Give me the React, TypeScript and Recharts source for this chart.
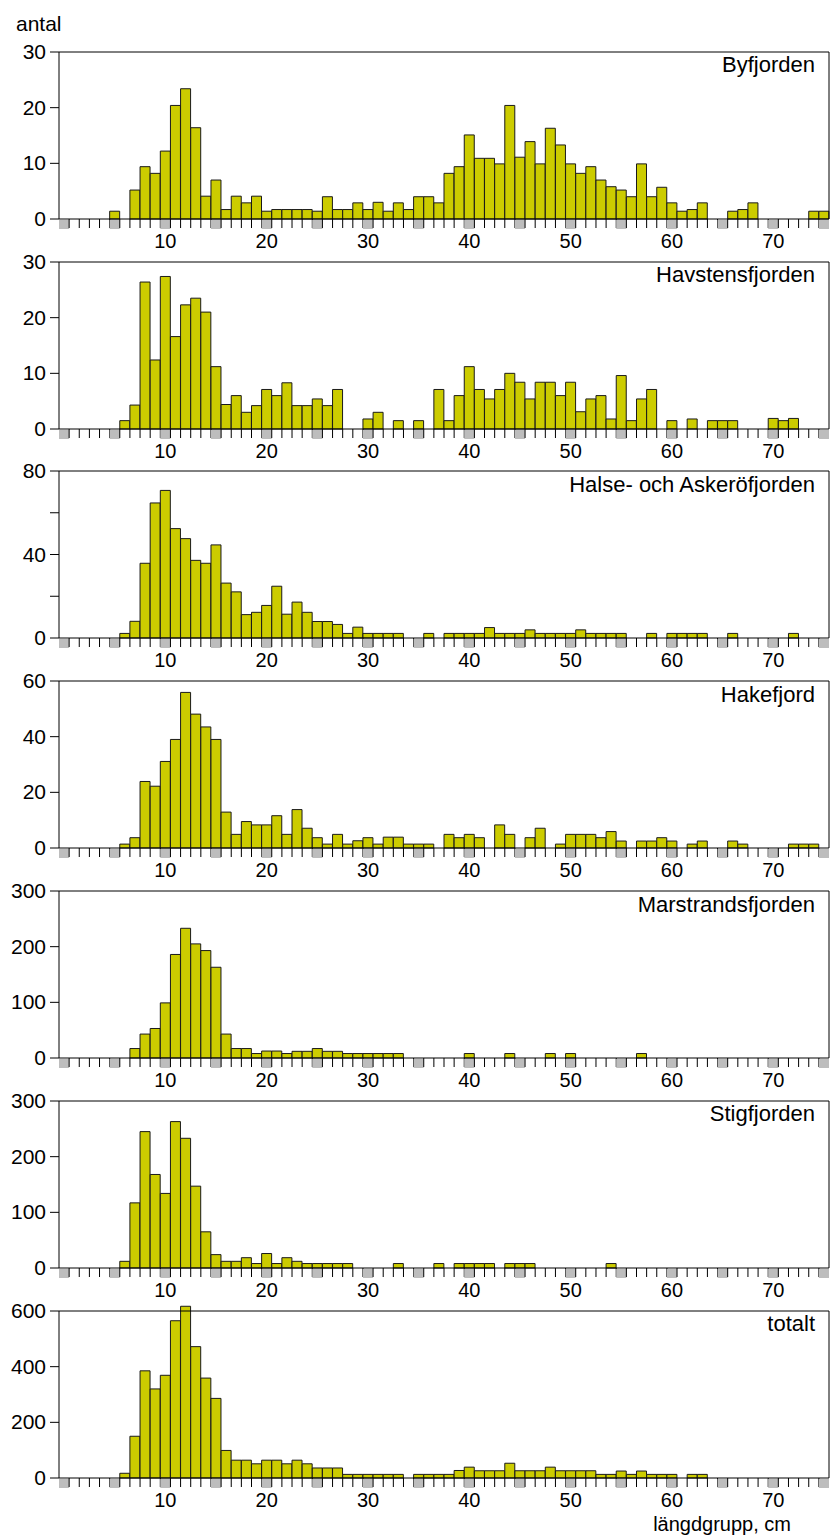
import React from 'react';
import { BarChart, Bar, XAxis, YAxis, ReferenceLine } from 'recharts';

// length groups, cm
const LENGTHS = Array.from({ length: 76 }, (_, i) => i);
const X_LABELS = [10, 20, 30, 40, 50, 60, 70];

const byfjorden = [0, 0, 0, 0, 0, 1.4, 0, 5.2, 9.4, 8.2, 12.2, 20.4, 23.4, 16.4, 4.1, 7.0, 1.7, 4.1, 2.9, 4.1, 1.4, 1.7, 1.7, 1.7, 1.7, 1.4, 4.0, 1.7, 1.7, 2.9, 1.7, 3.0, 1.4, 2.9, 1.7, 4.0, 4.0, 2.9, 8.2, 9.4, 15.1, 10.9, 10.9, 9.9, 20.4, 11.1, 13.9, 9.9, 16.3, 13.3, 9.9, 8.2, 9.4, 7.0, 5.8, 5.2, 4.0, 9.9, 4.0, 5.7, 2.9, 1.4, 1.7, 2.9, 0, 0, 1.4, 1.7, 2.9, 0, 0, 0, 0, 0, 1.4, 1.4];
const havstensfjorden = [0, 0, 0, 0, 0, 0, 1.5, 4.3, 26.4, 12.4, 27.4, 16.6, 22.3, 23.5, 21.0, 11.2, 4.4, 6.0, 3.0, 4.2, 7.1, 6.0, 8.3, 4.2, 4.2, 5.4, 4.2, 7.1, 0, 0, 1.8, 3.0, 0, 1.5, 0, 1.5, 0, 7.1, 1.5, 6.0, 11.2, 7.1, 5.4, 7.1, 10.0, 8.4, 5.4, 8.4, 8.4, 6.0, 8.4, 3.1, 5.4, 6.0, 1.8, 9.6, 1.5, 5.4, 7.1, 0, 1.5, 0, 1.8, 0, 1.5, 1.5, 1.5, 0, 0, 0, 1.9, 1.5, 1.9, 0, 0, 0];
const halseAskero = [0, 0, 0, 0, 0, 0, 2.2, 8.0, 35.8, 64.7, 70.7, 52.4, 47.6, 37.2, 35.8, 44.6, 26.3, 22.1, 11.2, 12.3, 15.6, 24.8, 11.4, 17.2, 12.3, 7.9, 7.9, 6.5, 2.2, 5.2, 2.2, 2.2, 2.2, 2.2, 0, 0, 2.2, 0, 2.2, 2.2, 2.2, 2.2, 5.0, 2.2, 2.2, 2.2, 3.9, 2.2, 2.2, 2.2, 2.2, 3.9, 2.2, 2.2, 2.2, 2.2, 0, 0, 2.2, 0, 2.2, 2.2, 2.2, 2.2, 0, 0, 2.2, 0, 0, 0, 0, 0, 2.2, 0, 0, 0];
const hakefjord = [0, 0, 0, 0, 0, 0, 1.4, 3.7, 23.9, 22.2, 31.1, 39.0, 55.9, 48.1, 43.5, 39.0, 12.9, 4.9, 9.5, 8.3, 8.3, 11.6, 4.9, 13.8, 7.1, 3.7, 1.4, 4.9, 1.4, 2.6, 3.7, 1.4, 3.9, 3.9, 1.4, 1.4, 1.4, 0, 4.9, 3.7, 4.9, 3.7, 0, 8.3, 4.9, 0, 3.7, 7.1, 0, 1.4, 4.9, 4.9, 4.9, 3.7, 5.9, 2.5, 0, 2.5, 2.5, 3.7, 2.5, 0, 1.4, 2.5, 0, 0, 2.5, 1.4, 0, 0, 0, 0, 1.4, 1.4, 1.4, 0];
const marstrandsfjorden = [0, 0, 0, 0, 0, 0, 0, 17, 43, 53, 99, 186, 233, 205, 193, 163, 43, 17, 17, 8, 12.5, 12.5, 8, 12, 12, 17, 12, 12, 8, 8, 8, 8, 8, 8, 0, 0, 0, 0, 0, 0, 8, 0, 0, 0, 8, 0, 0, 0, 8, 0, 8, 0, 0, 0, 0, 0, 0, 8, 0, 0, 0, 0, 0, 0, 0, 0, 0, 0, 0, 0, 0, 0, 0, 0, 0, 0];
const stigfjorden = [0, 0, 0, 0, 0, 0, 12, 117, 245, 168, 134, 263, 233, 147, 65, 24, 12, 12, 18.5, 8, 26, 8, 18.5, 12, 8, 8, 8, 8, 8, 0, 0, 0, 0, 8, 0, 0, 0, 8, 0, 8, 8, 8, 8, 0, 8, 8, 8, 0, 0, 0, 0, 0, 0, 0, 8, 0, 0, 0, 0, 0, 0, 0, 0, 0, 0, 0, 0, 0, 0, 0, 0, 0, 0, 0, 0, 0];
const totalt = [0, 0, 0, 0, 0, 0, 17, 150, 385, 320, 369, 565, 617, 472, 359, 286, 99, 64, 64, 51, 64, 64, 51, 64, 51, 36, 36, 36, 13, 13, 13, 13, 13, 13, 0, 13, 13, 13, 13, 27, 39, 26, 26, 26, 53, 26, 26, 26, 39, 26, 26, 26, 26, 13, 13, 25, 13, 25, 13, 13, 13, 0, 13, 13, 0, 0, 0, 0, 0, 0, 0, 0, 0, 0, 0, 0];

const PANELS = [
  { name: 'Byfjorden', values: byfjorden, ticks: [0, 10, 20, 30], labels: [0, 10, 20, 30] },
  { name: 'Havstensfjorden', values: havstensfjorden, ticks: [0, 10, 20, 30], labels: [0, 10, 20, 30] },
  { name: 'Halse- och Askeröfjorden', values: halseAskero, ticks: [0, 20, 40, 60, 80], labels: [0, 40, 80] },
  { name: 'Hakefjord', values: hakefjord, ticks: [0, 20, 40, 60], labels: [0, 20, 40, 60] },
  { name: 'Marstrandsfjorden', values: marstrandsfjorden, ticks: [0, 100, 200, 300], labels: [0, 100, 200, 300] },
  { name: 'Stigfjorden', values: stigfjorden, ticks: [0, 100, 200, 300], labels: [0, 100, 200, 300] },
  // highest bar pokes out above the frame, so the domain goes a bit higher
  { name: 'totalt', values: totalt, ticks: [0, 200, 400, 600], labels: [0, 200, 400, 600], dmax: 630 },
];

const W = 831;
const PLOT_L = 59;
const PLOT_R = 829;
const PLOT_H = 167;
const FIRST_TOP = 51.7;
const STEP = 209.8;
const PAD_TOP = 20;
const CHART_H = PAD_TOP + PLOT_H + 33;
const FILL = '#cccc00';
const GRAY = '#bdbdbd';
const FONT = '"Liberation Sans", Arial, Helvetica, sans-serif';

const XTick = (props: any) => {
  const { x, y, payload } = props;
  const v = payload.value;
  const half = payload.offset || (PLOT_R - PLOT_L) / LENGTHS.length / 2;
  return (
    <g>
      {v % 5 === 0 && <rect x={x - half} y={y + 1} width={half * 2} height={9} fill={GRAY} />}
      {v < LENGTHS.length - 1 && (
        <line x1={x + half} x2={x + half} y1={y} y2={y + 9} stroke="#000" strokeWidth={1} />
      )}
      {X_LABELS.includes(v) && (
        <text x={x} y={y + 29} textAnchor="middle" fontSize={20} fill="#000">
          {v}
        </text>
      )}
    </g>
  );
};

const makeYTick = (labels: number[]) => (props: any) => {
  const { x, y, payload } = props;
  if (!labels.includes(payload.value)) return <g />;
  return (
    <text x={x} y={y} dy="0.34em" textAnchor="end" fontSize={21} fill="#000">
      {payload.value}
    </text>
  );
};

const Panel = ({ panel, index }: { panel: any; index: number }) => {
  const top = panel.ticks[panel.ticks.length - 1];
  const dmax = panel.dmax || top;
  const ph = (PLOT_H * dmax) / top;
  const mt = PAD_TOP - (ph - PLOT_H);
  const data = LENGTHS.map((len, i) => ({ len, antal: panel.values[i] }));
  const last = LENGTHS[LENGTHS.length - 1];

  return (
    <div style={{ position: 'absolute', left: 0, top: FIRST_TOP + STEP * index - PAD_TOP }}>
      <BarChart
        width={W}
        height={CHART_H}
        data={data}
        margin={{ top: mt, right: W - PLOT_R, bottom: 0, left: 0 }}
        barCategoryGap={0}
      >
        <XAxis
          dataKey="len"
          interval={0}
          height={33}
          tickLine={false}
          tickSize={0}
          tickMargin={0}
          axisLine={{ stroke: '#000' }}
          tick={(p: any) => <XTick {...p} />}
        />
        <YAxis
          width={PLOT_L}
          domain={[0, dmax]}
          ticks={panel.ticks}
          axisLine={false}
          tickLine={{ stroke: '#000' }}
          tickSize={9}
          tickMargin={4}
          tick={makeYTick(panel.labels)}
        />
        <ReferenceLine y={top} stroke="#000" />
        <ReferenceLine segment={[{ x: 0, y: 0 }, { x: 0, y: top }]} position="start" stroke="#000" />
        <ReferenceLine segment={[{ x: last, y: 0 }, { x: last, y: top }]} position="end" stroke="#000" />
        <Bar dataKey="antal" fill={FILL} stroke="#1a1a1a" strokeWidth={1} isAnimationActive={false} />
      </BarChart>
    </div>
  );
};

export default function App() {
  return (
    <div
      style={{
        position: 'absolute',
        left: 0,
        top: 0,
        width: W,
        height: 1538,
        background: '#fff',
        fontFamily: FONT,
      }}
    >
      {PANELS.map((p, i) => (
        <Panel key={p.name} panel={p} index={i} />
      ))}
      <svg
        width={W}
        height={1538}
        style={{ position: 'absolute', left: 0, top: 0, pointerEvents: 'none' }}
        fontFamily={FONT}
      >
        <text x={16} y={31} fontSize={21} fill="#000">
          antal
        </text>
        {PANELS.map((p, i) => (
          <text key={p.name} x={PLOT_R - 14} y={FIRST_TOP + STEP * i + 20.6} textAnchor="end" fontSize={22} fill="#000">
            {p.name}
          </text>
        ))}
        <text x={791} y={1531} textAnchor="end" fontSize={20} fill="#000">
          längdgrupp, cm
        </text>
      </svg>
    </div>
  );
}
